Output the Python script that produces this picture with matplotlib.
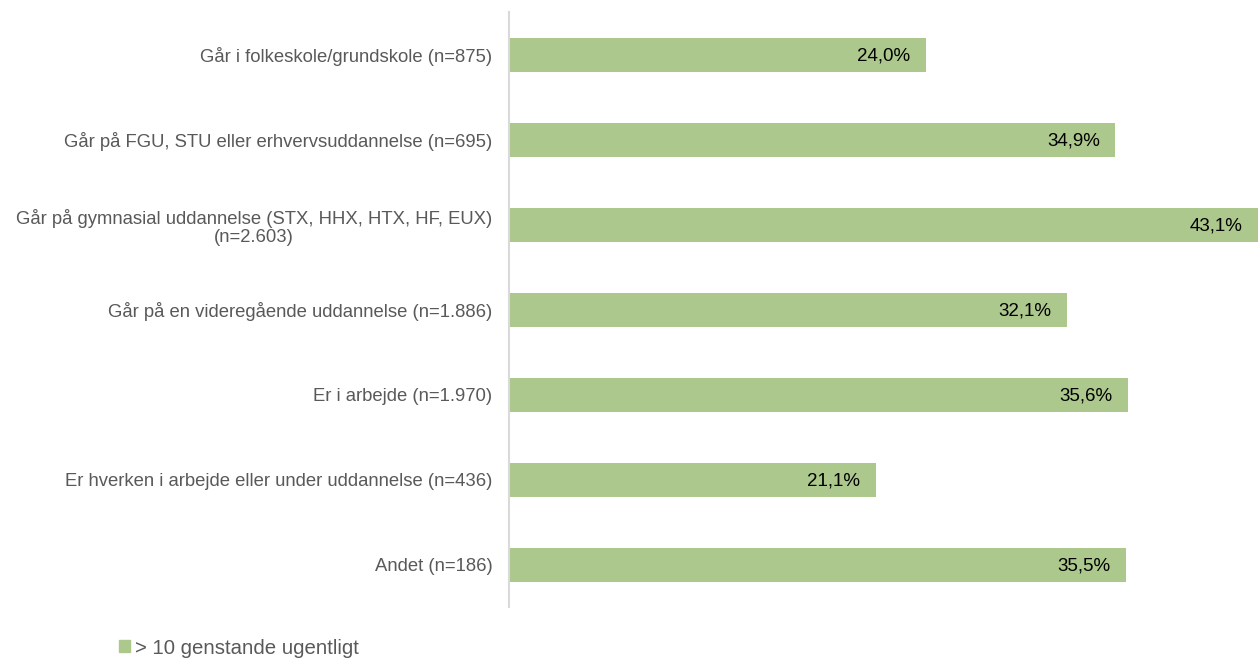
import matplotlib
matplotlib.use("Agg")
import matplotlib.pyplot as plt
from matplotlib.patches import Patch

# ── data ────────────────────────────────────────────────────────────────
categories = [
    "Går i folkeskole/grundskole (n=875)",
    "Går på FGU, STU eller erhvervsuddannelse (n=695)",
    "Går på gymnasial uddannelse (STX, HHX, HTX, HF, EUX)\n(n=2.603)",
    "Går på en videregående uddannelse (n=1.886)",
    "Er i arbejde (n=1.970)",
    "Er hverken i arbejde eller under uddannelse (n=436)",
    "Andet (n=186)",
]
values = [24.0, 34.9, 43.1, 32.1, 35.6, 21.1, 35.5]
series_name = "> 10 genstande ugentligt"

GREEN = "#adc88d"
GREY_TXT = "#595959"

plt.rcParams["font.family"] = ["Liberation Sans", "DejaVu Sans"]

fig = plt.figure(figsize=(12.58, 6.60), dpi=100)
ax = fig.add_axes([509 / 1258, 1 - 607 / 660, 749 / 1258, 595 / 660])

ypos = list(range(len(categories)))
ax.barh(ypos, values, height=0.4, color=GREEN, zorder=2)

for y, v in zip(ypos, values):
    ax.text(v - 0.9, y + 0.02, f"{v:.1f}".replace(".", ",") + "%",
            ha="right", va="center", fontsize=13.5, color="black", zorder=3)

ax.set_xlim(0, 43.1)
ax.set_ylim(len(categories) - 0.5, -0.5)
ax.set_yticks(ypos)
ax.set_yticklabels(categories, fontsize=13.3, color=GREY_TXT,
                   multialignment="center", linespacing=1.1)
ax.tick_params(axis="y", length=0, pad=12)
ax.set_xticks([])

for side in ("top", "right", "bottom"):
    ax.spines[side].set_visible(False)
ax.spines["left"].set_color("#d9d9d9")
ax.spines["left"].set_linewidth(1.5)

fig.legend(handles=[Patch(color=GREEN, label=series_name)],
           loc="center left", bbox_to_anchor=(101 / 1258, 1 - 648 / 660),
           frameon=False, fontsize=14.7, handlelength=0.5, handleheight=0.5,
           handletextpad=0.25, labelcolor=GREY_TXT)

fig.savefig("out.png", dpi=100)
